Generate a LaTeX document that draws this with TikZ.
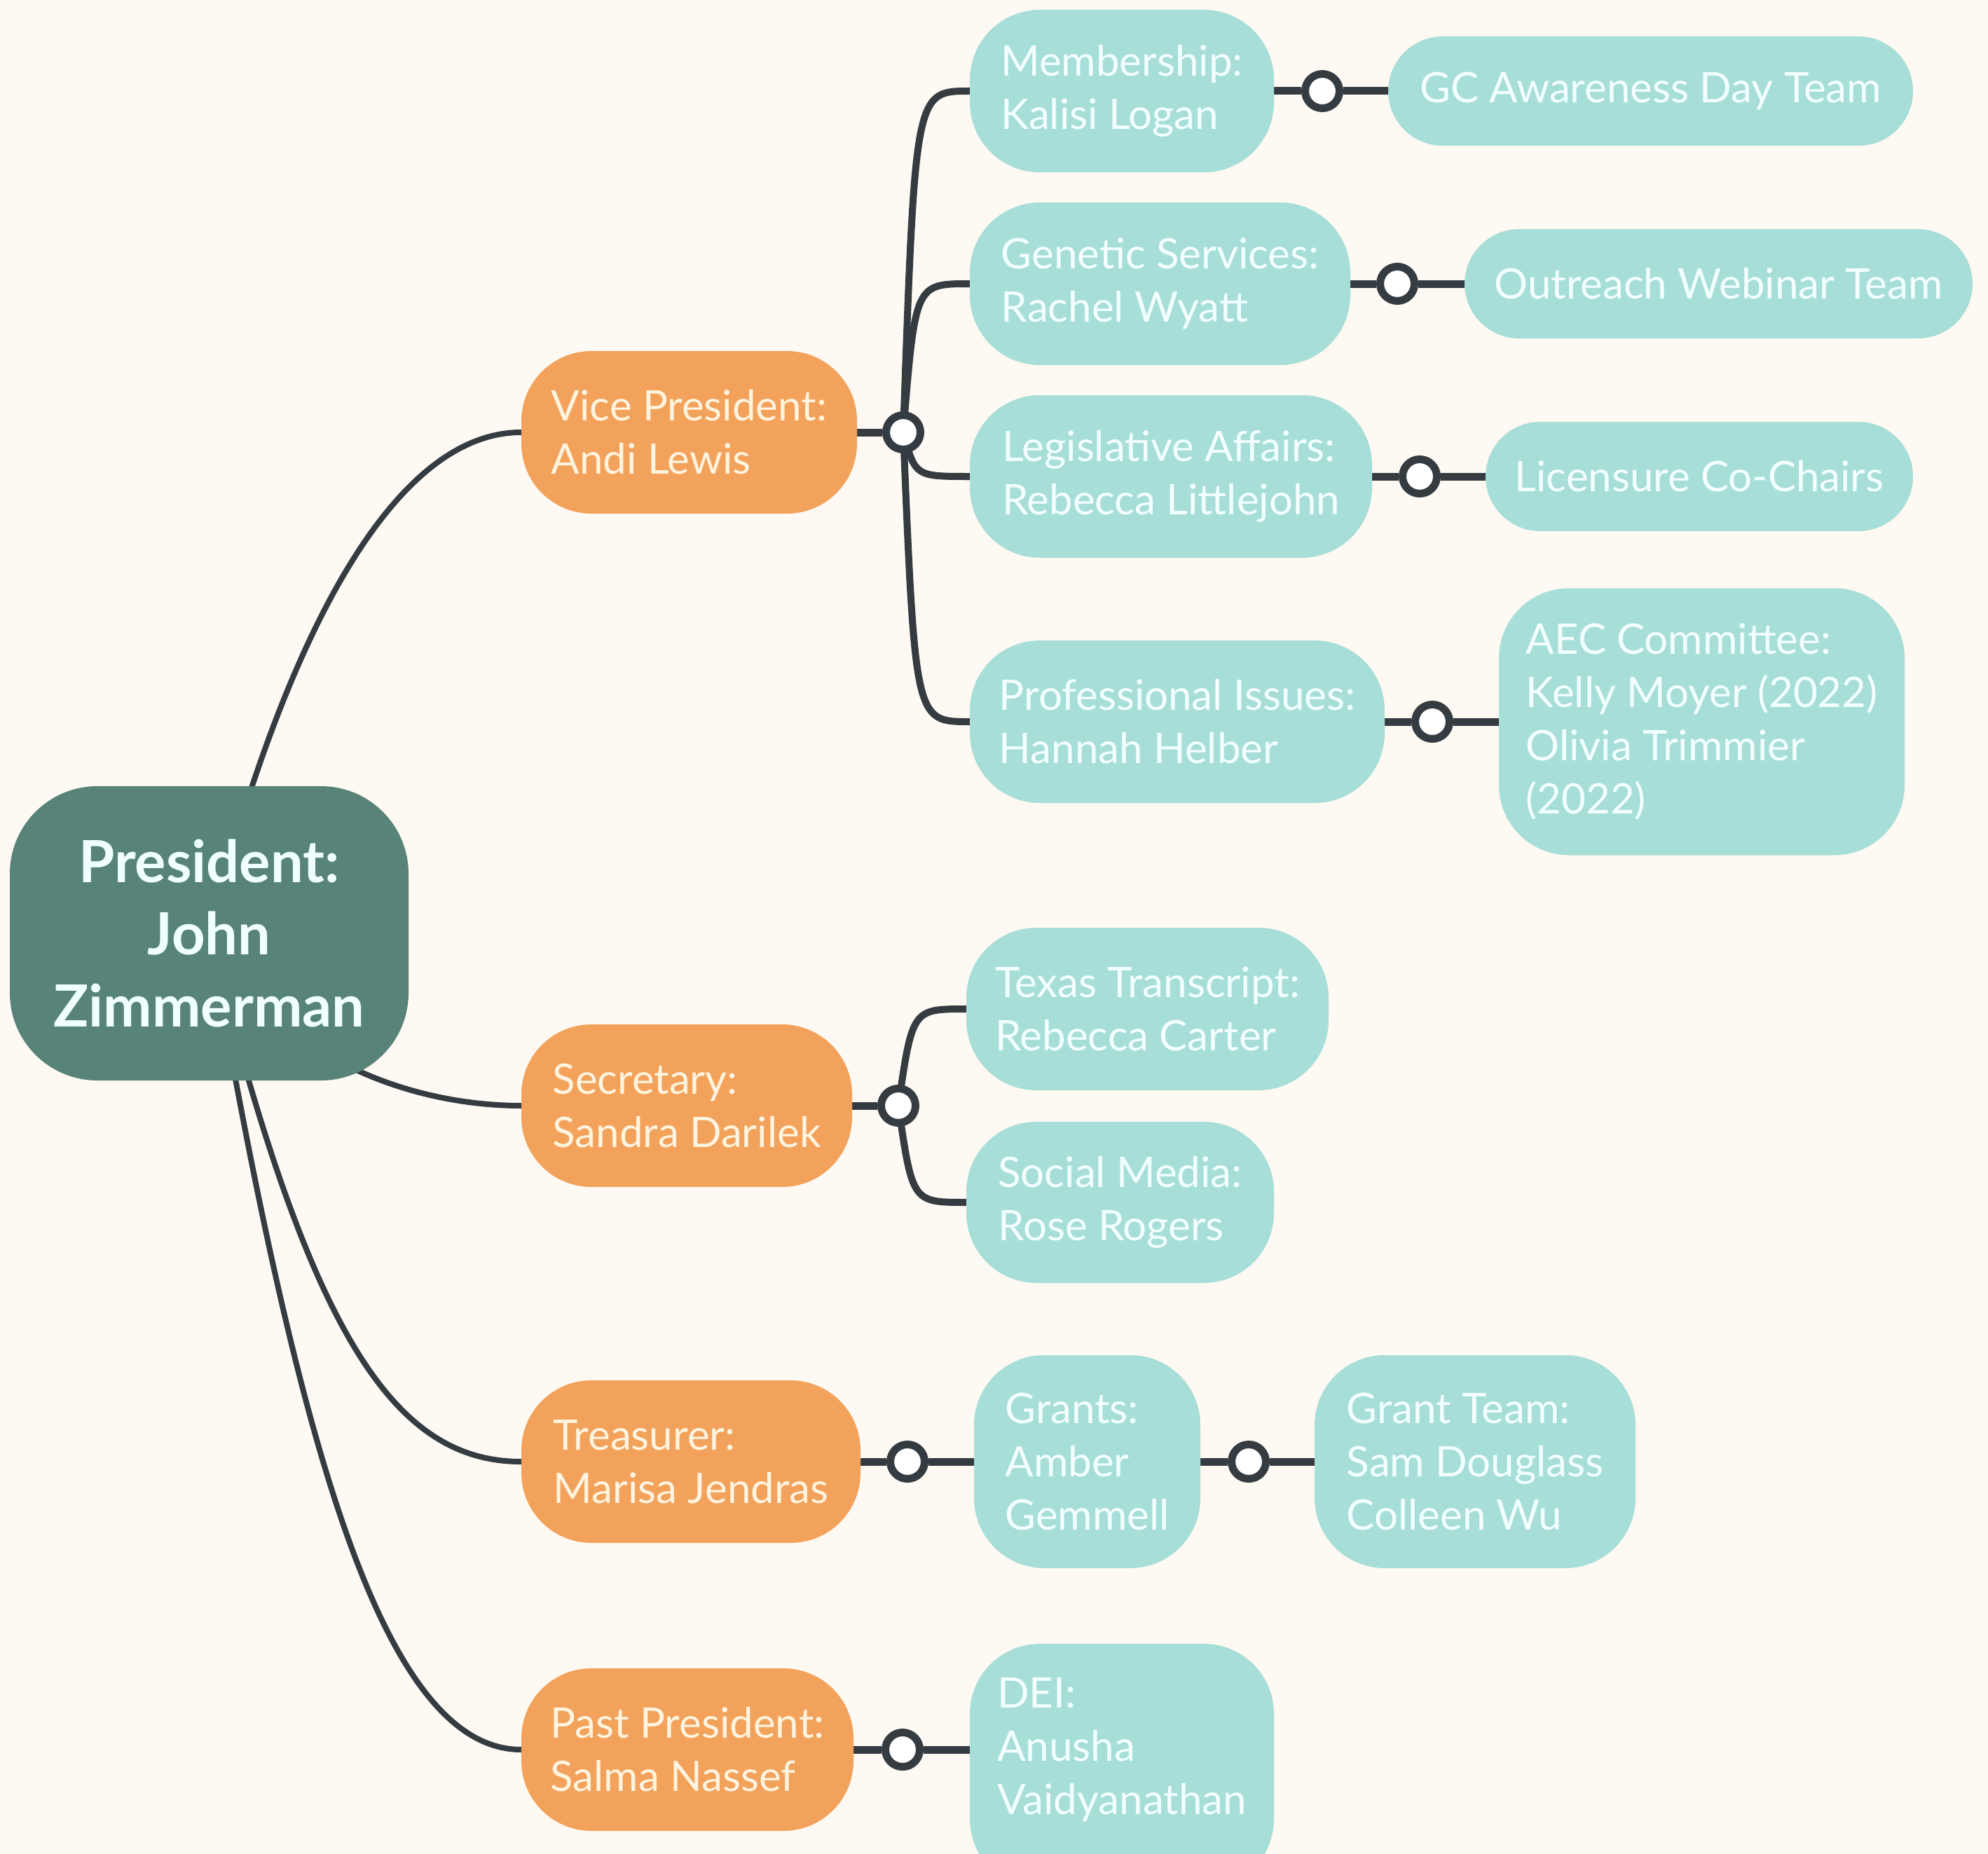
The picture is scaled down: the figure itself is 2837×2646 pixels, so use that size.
\documentclass[tikz,border=0pt]{standalone}
\usepackage{fontspec}
\setmainfont{Lato}
\definecolor{bgc}{HTML}{FEF9F2}
\definecolor{presc}{HTML}{578378}
\definecolor{orangec}{HTML}{F3A25B}
\definecolor{tealc}{HTML}{A7DED8}
\definecolor{linec}{HTML}{343C42}
\definecolor{orangetext}{HTML}{FFF4DF}
\definecolor{tealtext}{HTML}{F3FFFF}
\definecolor{presstext}{HTML}{F0FFFF}
\pgfdeclarelayer{bg}
\pgfdeclarelayer{edges}
\pgfsetlayers{bg,edges,main}
\tikzset{
  basebox/.style={rectangle, align=left, inner xsep=0pt, inner ysep=0pt,
    font=\fontsize{60}{76}\selectfont},
  presbox/.style={rectangle, align=center, fill=presc, text=presstext, inner sep=0pt,
    font=\fontsize{83}{103}\selectfont\bfseries, rounded corners=125pt},
  orangebox/.style={basebox, fill=orangec, text=orangetext, rounded corners=100pt},
  tealbox/.style={basebox, fill=tealc, text=tealtext},
  junc/.style={circle, draw=linec, line width=11pt, fill=white, minimum size=49pt, inner sep=0pt},
  curve/.style={draw=linec, line width=8pt},
  branch/.style={draw=linec, line width=10pt},
  stem/.style={draw=linec, line width=11pt}
}
\begin{document}
\begin{tikzpicture}[x=1pt,y=-1pt]
\begin{pgfonlayer}{bg}
\fill[bgc] (0,0) rectangle (2837,2646);
\end{pgfonlayer}
\useasboundingbox (0,0) rectangle (2837,2646);

% central node
\node[presbox, minimum width=569pt, minimum height=420pt] (pres) at (298.5,1332) {President:\\John\\Zimmerman};

% officers
\node[orangebox, minimum width=479pt, minimum height=232pt] (vp) at (983.5,617) {Vice President:\\Andi Lewis};
\node[orangebox, minimum width=472pt, minimum height=232pt] (sec) at (980,1578) {Secretary:\\Sandra Darilek};
\node[orangebox, minimum width=484pt, minimum height=232pt] (tre) at (986,2086) {Treasurer:\\Marisa Jendras};
\node[orangebox, minimum width=474pt, minimum height=232pt] (past) at (981,2497) {Past President:\\Salma Nassef};

% junctions
\node[junc] (vpj) at (1289,617) {};
\node[junc] (secj) at (1282,1578) {};
\node[junc] (trej) at (1295,2086) {};
\node[junc] (pastj) at (1288,2497) {};

% committees
\node[tealbox, rounded corners=100pt, minimum width=434pt, minimum height=232pt] (mem) at (1601,130) {Membership:\\Kalisi Logan};
\node[tealbox, rounded corners=100pt, minimum width=543pt, minimum height=232pt] (gen) at (1655.5,405) {Genetic Services:\\Rachel Wyatt};
\node[tealbox, rounded corners=100pt, minimum width=574pt, minimum height=232pt] (leg) at (1671,680) {Legislative Affairs:\\Rebecca Littlejohn};
\node[tealbox, rounded corners=100pt, minimum width=592pt, minimum height=232pt] (pro) at (1680,1030) {Professional Issues:\\Hannah Helber};
\node[tealbox, rounded corners=100pt, minimum width=517pt, minimum height=232pt] (tex) at (1637.5,1440) {Texas Transcript:\\Rebecca Carter};
\node[tealbox, rounded corners=100pt, minimum width=439pt, minimum height=230pt] (soc) at (1598.5,1716) {Social Media:\\Rose Rogers};
\node[tealbox, rounded corners=100pt, minimum width=323pt, minimum height=304pt] (gra) at (1551.5,2086) {Grants:\\Amber\\Gemmell};
\node[tealbox, rounded corners=100pt, minimum width=434pt, minimum height=350pt,
  label={[align=left, text=tealtext, font=\fontsize{60}{76}\selectfont, yshift=24pt]center:DEI:\\Anusha\\Vaidyanathan}] (dei) at (1601,2521) {};

% second junctions
\node[junc] (memj) at (1887,130) {};
\node[junc] (genj) at (1994,405) {};
\node[junc] (legj) at (2026,680) {};
\node[junc] (proj) at (2044,1030) {};
\node[junc] (graj) at (1782,2086) {};

% teams
\node[tealbox, rounded corners=78pt, minimum width=749pt, minimum height=156pt] (gc) at (2355.5,130) {GC Awareness Day Team};
\node[tealbox, rounded corners=78pt, minimum width=725pt, minimum height=156pt] (out) at (2452.5,405) {Outreach Webinar Team};
\node[tealbox, rounded corners=78pt, minimum width=610pt, minimum height=156pt] (lic) at (2425,680) {Licensure Co-Chairs};
\node[tealbox, rounded corners=100pt, minimum width=579pt, minimum height=381pt] (aec) at (2428.5,1030) {AEC Committee:\\Kelly Moyer (2022)\\Olivia Trimmier\\(2022)};
\node[tealbox, rounded corners=100pt, minimum width=458pt, minimum height=304pt] (gt) at (2105,2086) {Grant Team:\\Sam Douglass\\Colleen Wu};

\begin{pgfonlayer}{edges}
% president to officers
\draw[curve] (pres.center) .. controls (406,912) and (560,617) .. (vp.west);
\draw[curve] (pres.center) .. controls (400,1520) and (600,1578) .. (sec.west);
\draw[curve] (pres.center) .. controls (440,1900) and (560,2086) .. (tre.west);
\draw[curve] (pres.center) .. controls (420,2032) and (540,2497) .. (past.west);

% officer stems
\draw[stem] (vp.east) -- (vpj);
\draw[stem] (sec.east) -- (secj);
\draw[stem] (tre.east) -- (trej) -- (gra.west);
\draw[stem] (past.east) -- (pastj) -- (pastj -| dei.west);

% VP branches
\draw[branch] (vpj.center) .. controls (1306,130) .. (mem.west);
\draw[branch] (vpj.center) .. controls (1306,405) .. (gen.west);
\draw[branch] (vpj.center) .. controls (1306,680) .. (leg.west);
\draw[branch] (vpj.center) .. controls (1306,1030) .. (pro.west);

% Secretary branches
\draw[branch] (secj.center) .. controls (1302,1440) .. (tex.west);
\draw[branch] (secj.center) .. controls (1302,1716) .. (soc.west);

% committee to teams
\draw[stem] (mem.east) -- (memj) -- (gc.west);
\draw[stem] (gen.east) -- (genj) -- (out.west);
\draw[stem] (leg.east) -- (legj) -- (lic.west);
\draw[stem] (pro.east) -- (proj) -- (aec.west);
\draw[stem] (gra.east) -- (graj) -- (gt.west);
\end{pgfonlayer}
\end{tikzpicture}
\end{document}
